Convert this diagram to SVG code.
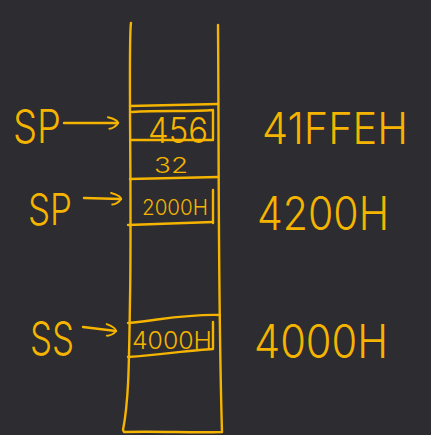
<svg xmlns="http://www.w3.org/2000/svg" width="431" height="435" viewBox="0 0 431 435">
<style>
.s{fill:none;stroke:#f5b400;stroke-width:2.4;stroke-linecap:round;stroke-linejoin:round}
.t{fill:#f5b400;font-family:Inter,"Open Sans","Liberation Sans",sans-serif;font-weight:300}
</style>
<defs>
<marker id="ah" viewBox="0 0 10 10" refX="8" refY="5" markerWidth="6" markerHeight="6" orient="auto" markerUnits="strokeWidth">
<path d="M1,1 C6,2 8,4 8,5 C7,7 4,9 2,9" fill="none" stroke="#f5b400" stroke-width="1.3" stroke-linecap="round"/>
</marker>
</defs>
<rect width="431" height="435" fill="#2c2c31"/>
<g id="stack">
<path class="s" d="M131,23 C128,40 132,200 130,300 C129,360 129,400 123,430 L124,432 C160,431 190,433 222,432 C218,300 219,150 218,25"/>
</g>
<g id="cell-456">
<path class="s" d="M130,106 L218,104"/>
<path class="s" d="M132,112 C160,110 190,112 213,110 L213,140 L130,140"/>
<text class="t" x="148" y="143" font-size="36" textLength="60" lengthAdjust="spacingAndGlyphs">456</text>
</g>
<g id="cell-32">
<text class="t" x="154" y="173" font-size="21" textLength="34" lengthAdjust="spacingAndGlyphs">32</text>
<path class="s" d="M130,179 L218,177"/>
</g>
<g id="cell-2000H">
<path class="s" d="M213,190 L213,223"/>
<text class="t" x="142" y="215" font-size="22" textLength="66" lengthAdjust="spacingAndGlyphs">2000H</text>
<path class="s" d="M128,225 L213,222"/>
</g>
<g id="cell-4000H">
<path class="s" d="M128,323 C160,320 185,314 220,315"/>
<path class="s" d="M128,357 C160,355 190,350 213,349 L213,322"/>
<text class="t" x="132" y="349" font-size="24" textLength="80" lengthAdjust="spacingAndGlyphs">4000H</text>
</g>
<g id="label-sp1"><text class="t" x="13" y="143" font-size="46" textLength="48" lengthAdjust="spacingAndGlyphs">SP</text></g>
<g id="label-sp2"><text class="t" x="28" y="225" font-size="44" textLength="44" lengthAdjust="spacingAndGlyphs">SP</text></g>
<g id="label-ss"><text class="t" x="30" y="355" font-size="46" textLength="44" lengthAdjust="spacingAndGlyphs">SS</text></g>
<g id="addr-41FFEH"><text class="t" x="262" y="144" font-size="44" textLength="146" lengthAdjust="spacingAndGlyphs">41FFEH</text></g>
<g id="addr-4200H"><text class="t" x="257" y="230" font-size="46" textLength="132" lengthAdjust="spacingAndGlyphs">4200H</text></g>
<g id="addr-4000H"><text class="t" x="254" y="358" font-size="46" textLength="134" lengthAdjust="spacingAndGlyphs">4000H</text></g>
<g id="connectors">
<path class="s" d="M64,123 L118,123" marker-end="url(#ah)"/>
<path class="s" d="M84,198 L121,199" marker-end="url(#ah)"/>
<path class="s" d="M83,327 L116,331" marker-end="url(#ah)"/>
</g>
</svg>
